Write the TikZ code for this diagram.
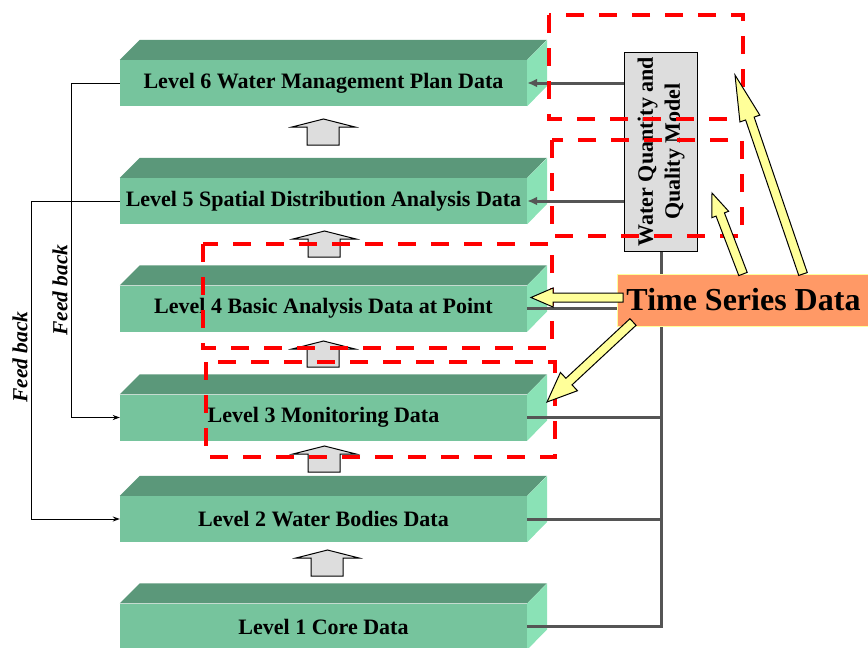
\documentclass[tikz,border=0pt]{standalone}
\usepackage{fontspec}
\setmainfont{Liberation Serif}
\usetikzlibrary{arrows.meta,calc}

\definecolor{barfront}{RGB}{118,196,157}
\definecolor{bartop}{RGB}{91,152,122}
\definecolor{barside}{RGB}{138,226,182}
\definecolor{linegrey}{RGB}{85,85,85}
\definecolor{boxgrey}{RGB}{221,221,221}
\definecolor{tsorange}{RGB}{255,153,102}
\definecolor{paleyellow}{RGB}{255,255,153}

\tikzset{
	levelbar/.style={fill=barfront, minimum width=407pt, minimum height=46pt, inner sep=0pt,
		font=\fontsize{22}{26}\selectfont\bfseries},
	topface/.style={fill=bartop},
	sideface/.style={fill=barside},
	blockup/.style={fill=boxgrey, draw=black, line width=1pt},
	feedback/.style={draw=black, line width=1pt, -{Stealth[length=7pt,width=5pt]}},
	fblabel/.style={rotate=90, inner sep=0pt, font=\fontsize{21.5}{24}\selectfont\bfseries\itshape},
	gline/.style={draw=linegrey, line width=3pt},
	modelbox/.style={draw=black, fill=boxgrey, line width=1pt, minimum width=73pt, minimum height=199pt,
		inner sep=0pt, font=\fontsize{22}{27}\selectfont\bfseries},
	tsbox/.style={draw=paleyellow, fill=tsorange, line width=1pt, minimum width=253pt, minimum height=52pt,
		inner sep=0pt, font=\fontsize{32}{36}\selectfont\bfseries},
	zone/.style={draw=red, line width=4pt, dash pattern=on 18pt off 15pt},
	fat/.style={fill=paleyellow, draw=black, line width=1pt, line join=miter}
}

\begin{document}
\begin{tikzpicture}[x=1pt,y=-1pt]
			\useasboundingbox (0,0) rectangle (868,648);
			\def\slab{20}
			% tail, tip, head length, half head width
			\def\fatarrow#1#2#3#4{%
				\coordinate (hb) at ($(#2)!#3!(#1)$);
				\filldraw[fat] ($(#1)!4.5pt!90:(#2)$) -- ($(hb)!4.5pt!-90:(#1)$) -- ($(hb)!#4!-90:(#1)$) -- (#2)
				-- ($(hb)!#4!90:(#1)$) -- ($(hb)!4.5pt!90:(#1)$) -- ($(#1)!4.5pt!-90:(#2)$) -- cycle;}
			
			% the six levels
			\node[levelbar] (l6) at (323.5,83) {Level 6 Water Management Plan Data};
			\fill[topface] (l6.north west) -- ++(\slab,-\slab) -- ++(407,0) -- (l6.north east) -- cycle;
			\fill[sideface] (l6.north east) -- ++(\slab,-\slab) -- ++(0,46) -- (l6.south east) -- cycle;
			
			\node[levelbar] (l5) at (323.5,201) {Level 5 Spatial Distribution Analysis Data};
			\fill[topface] (l5.north west) -- ++(\slab,-\slab) -- ++(407,0) -- (l5.north east) -- cycle;
			\fill[sideface] (l5.north east) -- ++(\slab,-\slab) -- ++(0,46) -- (l5.south east) -- cycle;
			
			\node[levelbar] (l4) at (323.5,308.5) {Level 4 Basic Analysis Data at Point};
			\fill[topface] (l4.north west) -- ++(\slab,-\slab) -- ++(407,0) -- (l4.north east) -- cycle;
			\fill[sideface] (l4.north east) -- ++(\slab,-\slab) -- ++(0,46) -- (l4.south east) -- cycle;
			
			\node[levelbar] (l3) at (323.5,417.5) {Level 3 Monitoring Data};
			\fill[topface] (l3.north west) -- ++(\slab,-\slab) -- ++(407,0) -- (l3.north east) -- cycle;
			\fill[sideface] (l3.north east) -- ++(\slab,-\slab) -- ++(0,46) -- (l3.south east) -- cycle;
			
			\node[levelbar] (l2) at (323.5,519) {Level 2 Water Bodies Data};
			\fill[topface] (l2.north west) -- ++(\slab,-\slab) -- ++(407,0) -- (l2.north east) -- cycle;
			\fill[sideface] (l2.north east) -- ++(\slab,-\slab) -- ++(0,46) -- (l2.south east) -- cycle;
			
			\node[levelbar] (l1) at (323.5,626.5) {Level 1 Core Data};
			\fill[topface] (l1.north west) -- ++(\slab,-\slab) -- ++(407,0) -- (l1.north east) -- cycle;
			\fill[sideface] (l1.north east) -- ++(\slab,-\slab) -- ++(0,46) -- (l1.south east) -- cycle;
			
			% grey arrows between the levels
			\draw[blockup] (307,145) -- ++(0,-18) -- ++(-15,0) -- ++(31.5,-8) -- ++(31.5,8) -- ++(-16,0) -- ++(0,18) -- cycle;
			\draw[blockup] (308,257) -- ++(0,-18) -- ++(-15,0) -- ++(31.5,-8) -- ++(31.5,8) -- ++(-16,0) -- ++(0,18) -- cycle;
			\draw[blockup] (307,367) -- ++(0,-18) -- ++(-15,0) -- ++(31.5,-8) -- ++(31.5,8) -- ++(-16,0) -- ++(0,18) -- cycle;
			\draw[blockup] (308,472) -- ++(0,-18) -- ++(-15,0) -- ++(31.5,-8) -- ++(31.5,8) -- ++(-16,0) -- ++(0,18) -- cycle;
			\draw[blockup] (311,576) -- ++(0,-18) -- ++(-15,0) -- ++(31.5,-8) -- ++(31.5,8) -- ++(-16,0) -- ++(0,18) -- cycle;
			
			% feed back loops
			\draw[feedback] (l6.west) -- ++(-48,0) |- (l3.west);
			\draw[feedback] (l5.west) -- ++(-88,0) |- (l2.west);
			\node[fblabel] (fb1) at (60,290) {Feed back};
			\node[fblabel] (fb2) at (20,357) {Feed back};
			
			% model and data bus
			\node[modelbox] (model) at (661,151.5) {\rotatebox{90}{\begin{tabular}{@{}c@{}}Water Quantity and\\Quality Model\end{tabular}}};
			\draw[gline, -{Latex[length=10pt,width=9pt]}] (model.west |- l6.east) -- (l6.east);
			\draw[gline, -{Latex[length=10pt,width=9pt]}] (model.west |- l5.east) -- (l5.east);
			\draw[gline] (model.south) |- (l1.east);
			\draw[gline] (l2.east) -- (l2.east -| model.south);
			\draw[gline] (l3.east) -- (l3.east -| model.south);
			\draw[gline] (l4.east) -- (l4.east -| model.south);
			
			\node[tsbox] (tsd) at (743.5,300) {Time Series Data};
			
			% dashed zones
			\draw[zone] (549,15) rectangle (743,119);
			\draw[zone] (552,140) rectangle (742,236);
			\draw[zone] (203,244) rectangle (552,348);
			\draw[zone] (206,362) rectangle (555,457);
			
			% time series inputs
			\coordinate (a1) at (623,297.5); \coordinate (b1) at (531,297.5);
			\coordinate (a2) at (633,322); \coordinate (b2) at (547,402);
			\coordinate (a3) at (743,274); \coordinate (b3) at (712,193);
			\coordinate (a4) at (803,274); \coordinate (b4) at (735,75);
			\fatarrow{a1}{b1}{22pt}{9.5pt}
			\fatarrow{a2}{b2}{30pt}{12.5pt}
			\fatarrow{a3}{b3}{23pt}{9pt}
			\fatarrow{a4}{b4}{46pt}{10.5pt}
		\end{tikzpicture}
\end{document}
